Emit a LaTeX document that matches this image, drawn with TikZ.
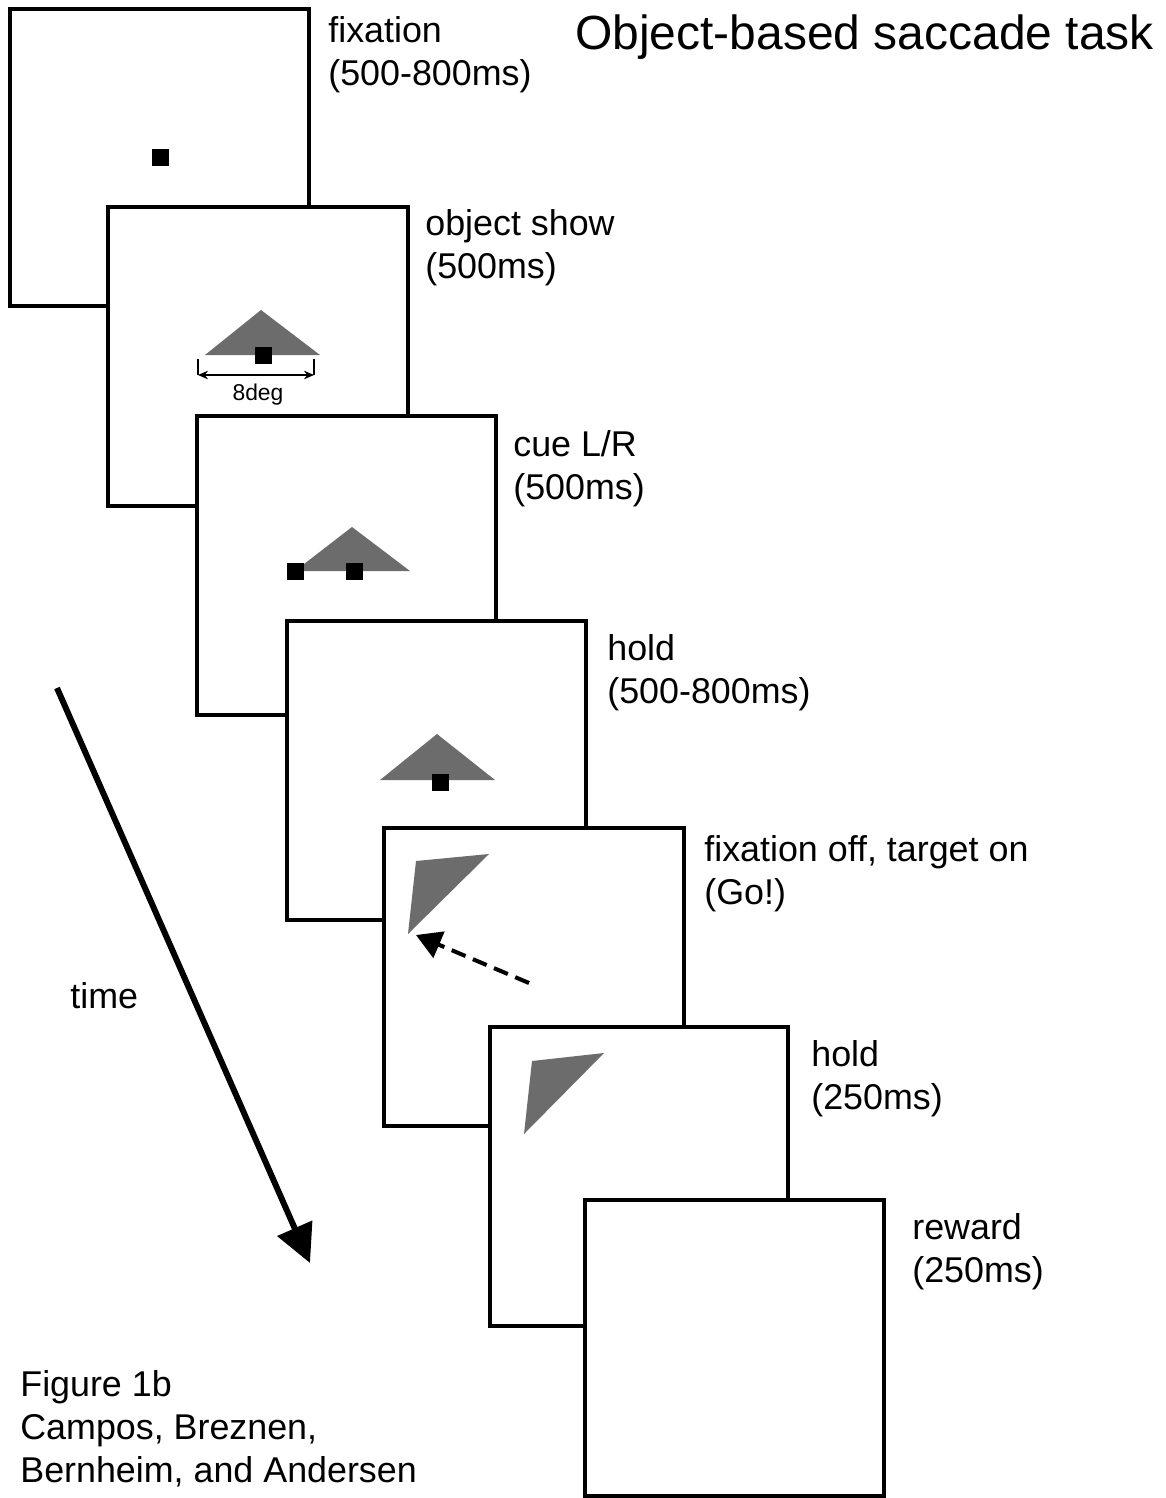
\documentclass[tikz,border=0pt]{standalone}
\usepackage{fontspec}
\setmainfont{Liberation Sans}
\usetikzlibrary{arrows.meta}
\definecolor{objgray}{RGB}{108,108,108}

\begin{document}
\begin{tikzpicture}[x=0.02cm,y=-0.02cm,
    screen/.style={draw,fill=white,line width=2.3pt},
    lbl/.style={anchor=base west,inner sep=0pt,font=\fontsize{20.4}{24}\selectfont},
    fixdot/.style={fill=black,inner sep=0pt,minimum size=0.34cm},
    obj/.style={fill=objgray}]
    \useasboundingbox (0,0) rectangle (1166,1498);
    	% the seven screens, each one on top of the one before
    	\draw[screen] (10,9) rectangle (309,306);
        \draw[screen] (108,207) rectangle (408,506);
        \draw[screen] (197,416) rectangle (496,715);
        \draw[screen] (287,621) rectangle (586,920);
        \draw[screen] (384,828) rectangle (684,1126);
        \draw[screen] (490,1027) rectangle (788,1326);
        \draw[screen] (585,1200) rectangle (884,1496);
        % what each screen shows
        \node[fixdot] (fixA) at (160,157) {};
        \fill[obj] (205,355) -- (261,310) -- (320,355) -- cycle;
        \node[fixdot] (fixB) at (263,355) {};
        \coordinate (dimL) at (198,375);
        \coordinate (dimR) at (314,375);
        \draw[line width=1pt] (198,359) -- (dimL);
        \draw[line width=1pt] (314,359) -- (dimR);
        \draw[line width=1pt,{Stealth[length=0.2cm,width=0.17cm]}-{Stealth[length=0.2cm,width=0.17cm]}] (dimL) -- (dimR);
        \node[anchor=base,inner sep=0pt,font=\fontsize{13}{16}\selectfont] (degtxt) at (258,400) {8deg};
        \fill[obj] (295,571) -- (352,527) -- (410,571) -- cycle;
        \node[fixdot] (cueL) at (295,571) {};
        \node[fixdot] (fixC) at (354,571) {};
        \fill[obj] (380,780) -- (437,734) -- (495,780) -- cycle;
        \node[fixdot] (fixD) at (440,782) {};
        \fill[obj] (416,861) -- (489,854) -- (408,934) -- cycle;
        \coordinate (sacstart) at (529,983);
        \coordinate (sacend) at (416,935);
        \draw[line width=2.3pt,dash pattern=on 0.3cm off 0.16cm,-{Triangle[length=0.5cm,width=0.56cm]}] (sacstart) -- (sacend);
        \fill[obj] (532,1061) -- (604,1053) -- (524,1134) -- cycle;
        % labels
        \node[lbl] (fixname) at (328,42) {fixation};
        \node[lbl] (fixtime) at (328,85) {(500-800ms)};
        \node[lbl] (objname) at (425,235) {object show};
        \node[lbl] (objtime) at (425,278) {(500ms)};
        \node[lbl] (cuename) at (513,456) {cue L/R};
        \node[lbl] (cuetime) at (513,499) {(500ms)};
        \node[lbl] (holdname) at (607,660) {hold};
        \node[lbl] (holdtime) at (607,703) {(500-800ms)};
        \node[lbl] (goname) at (704,861) {fixation off, target on};
        \node[lbl] (gotime) at (704,904) {(Go!)};
        \node[lbl] (hold2name) at (811,1066) {hold};
        \node[lbl] (hold2time) at (811,1109) {(250ms)};
        \node[lbl] (rewname) at (912,1239) {reward};
        \node[lbl] (rewtime) at (912,1282) {(250ms)};
        \node[anchor=base west,inner sep=0pt,font=\fontsize{27.3}{32}\selectfont] (title) at (575,49) {Object-based saccade task};
        % time arrow
        \coordinate (timestart) at (57,688);
        \coordinate (timeend) at (310,1263);
        \draw[line width=3.4pt,-{Triangle[length=0.76cm,width=0.74cm]}] (timestart) -- (timeend);
        \node[lbl] (timetxt) at (70,1008) {time};
        \node[lbl] (figtxt) at (20,1396) {Figure 1b};
        \node[lbl] (authA) at (20,1439) {Campos, Breznen,};
        \node[lbl] (authB) at (20,1482) {Bernheim, and Andersen};
    	\end{tikzpicture}
\end{document}
